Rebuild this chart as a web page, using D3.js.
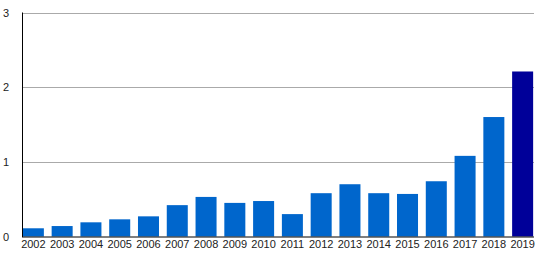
<!DOCTYPE html>
<html>
<head>
<meta charset="utf-8">
<script src="https://cdn.jsdelivr.net/npm/d3@7"></script>
<style>
  body { margin: 0; background: #fff; }
  text { font-family: "Liberation Sans", Arial, sans-serif; font-size: 11px; fill: #222; }
</style>
</head>
<body>
<svg id="chart"></svg>
<script>
  // data
  const years = ['2002', '2003', '2004', '2005', '2006', '2007', '2008', '2009', '2010',
    '2011', '2012', '2013', '2014', '2015', '2016', '2017', '2018', '2019']
  const values = [0.11, 0.14, 0.19, 0.23, 0.27, 0.42, 0.53, 0.45, 0.475,
    0.30, 0.58, 0.70, 0.58, 0.57, 0.74, 1.08, 1.60, 2.21]
  const yTicks = [0, 1, 2, 3]

  const W = 536
  const H = 265
  const M = { left: 22, right: 534, top: 12.5, bottom: 236.5 }

  const svg = d3.select('#chart').attr('width', W).attr('height', H)

  const x = d3.scaleBand().domain(years).range([M.left, M.right])
    .paddingInner(0.27).paddingOuter(0.03)
  const y = d3.scaleLinear().domain([0, 3]).range([M.bottom, M.top])

  // grid lines
  svg.selectAll('line.grid').data(yTicks.slice(1)).enter().append('line')
    .attr('x1', M.left).attr('x2', M.right)
    .attr('y1', d => Math.round(y(d)) + 0.5).attr('y2', d => Math.round(y(d)) + 0.5)
    .attr('stroke', '#aaa')

  // bars
  svg.selectAll('rect.bar').data(values).enter().append('rect')
    .attr('x', (d, i) => x(years[i]))
    .attr('width', x.bandwidth())
    .attr('y', d => y(d))
    .attr('height', d => M.bottom - y(d))
    .attr('fill', (d, i) => i === values.length - 1 ? '#000099' : '#0066CC')

  // axes lines
  svg.append('line').attr('x1', M.left + 0.5).attr('x2', M.left + 0.5)
    .attr('y1', M.top).attr('y2', M.bottom + 0.5).attr('stroke', '#000')
  svg.append('line').attr('x1', M.left).attr('x2', M.right)
    .attr('y1', M.bottom + 0.5).attr('y2', M.bottom + 0.5).attr('stroke', '#000')

  // y tick labels
  svg.selectAll('text.ytick').data(yTicks).enter().append('text')
    .attr('x', 9).attr('y', d => y(d) + 4)
    .attr('text-anchor', 'end')
    .text(d => d)

  // x labels
  svg.selectAll('text.xtick').data(years).enter().append('text')
    .attr('x', d => x(d) + x.bandwidth() / 2)
    .attr('y', 248)
    .attr('text-anchor', 'middle')
    .text(d => d)
</script>
</body>
</html>
